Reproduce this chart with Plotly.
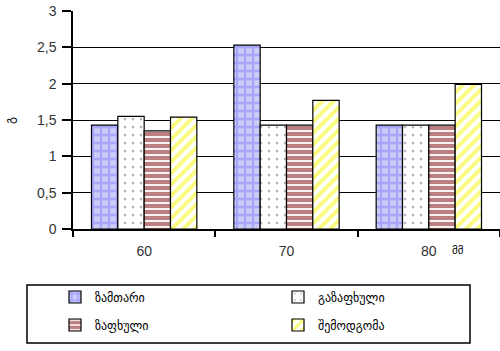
import plotly.graph_objects as go

categories = ["60", "70", "80"]
series_names = ["ზამთარი", "გაზაფხული", "ზაფხული", "შემოდგომა"]
winter = [1.43, 2.53, 1.43]
spring = [1.55, 1.43, 1.43]
summer = [1.35, 1.43, 1.43]
autumn = [1.54, 1.77, 1.99]
y_ticks = [0, 0.5, 1, 1.5, 2, 2.5, 3]

W, H = 500, 351
L, R, T, B = 73, 0, 11, 122
pw, ph = W - L - R, H - T - B

def px_x(x):
    return (x - L) / pw

def px_y(y):
    return (H - B - y) / ph

patterns = [
    dict(shape="+", fgcolor="#8080ff", bgcolor="#cdcdf8", size=8, solidity=0.5),
    dict(shape=".", fgcolor="#666666", bgcolor="#ffffff", size=8, solidity=0.08),
    dict(shape="-", fgcolor="#7a0000", bgcolor="#ffffff", size=6, solidity=0.7),
    dict(shape="/", fgcolor="#f5f500", bgcolor="#ffffff", size=8, solidity=0.5),
]
data = [winter, spring, summer, autumn]
legend_ids = ["legend", "legend2", "legend3", "legend4"]

fig = go.Figure()
for name, vals, pat, lg in zip(series_names, data, patterns, legend_ids):
    fig.add_trace(go.Bar(
        x=categories, y=vals, name=name, legend=lg,
        marker=dict(color=pat["bgcolor"], pattern=pat,
                    line=dict(color="black", width=1.2)),
    ))

leg_pos = [(55, 297), (278, 297), (55, 325), (278, 325)]
leg_common = dict(orientation="v", xanchor="left", yanchor="middle",
                  bgcolor="rgba(0,0,0,0)", borderwidth=0,
                  font=dict(family="DejaVu Sans", size=12, color="black"))
layout_legends = {}
for lg, (lx, ly) in zip(legend_ids, leg_pos):
    layout_legends[lg] = dict(x=px_x(lx), y=px_y(ly), **leg_common)

fig.update_layout(
    width=W, height=H,
    margin=dict(l=L, r=R, t=T, b=B, pad=0),
    paper_bgcolor="white", plot_bgcolor="white",
    separators=", ",
    barmode="group", bargap=0.26, bargroupgap=0,
    showlegend=True,
    font=dict(family="Liberation Sans, Arial", size=14, color="#333333"),
    xaxis=dict(showline=True, linecolor="black", linewidth=1.5,
               ticks="outside", tickson="boundaries", ticklen=6,
               tickcolor="black", tickwidth=1.5, showgrid=False,
               ticklabelstandoff=8, tickfont=dict(size=14)),
    yaxis=dict(range=[0, 3], tickvals=y_ticks, showline=True,
               linecolor="black", linewidth=1.5, ticks="outside",
               ticklen=9, tickcolor="black", tickwidth=1.5,
               showgrid=True, gridcolor="black", gridwidth=1.2,
               zeroline=False, ticklabelstandoff=3, tickfont=dict(size=14)),
    shapes=[dict(type="rect", xref="paper", yref="paper",
                 x0=px_x(27), x1=px_x(470), y0=px_y(285), y1=px_y(343),
                 line=dict(color="black", width=1.5), fillcolor="rgba(0,0,0,0)")],
    annotations=[
        dict(text="მმ", xref="paper", yref="paper", x=px_x(458), y=px_y(250),
             xanchor="center", yanchor="middle",
             showarrow=False, font=dict(family="DejaVu Sans", size=11, color="black")),
        dict(text="გ", xref="paper", yref="paper", x=px_x(10), y=px_y(121),
             xanchor="center", yanchor="middle",
             textangle=-90, showarrow=False,
             font=dict(family="DejaVu Sans", size=12, color="black")),
    ],
    **layout_legends,
)

fig.write_html("out.html")
